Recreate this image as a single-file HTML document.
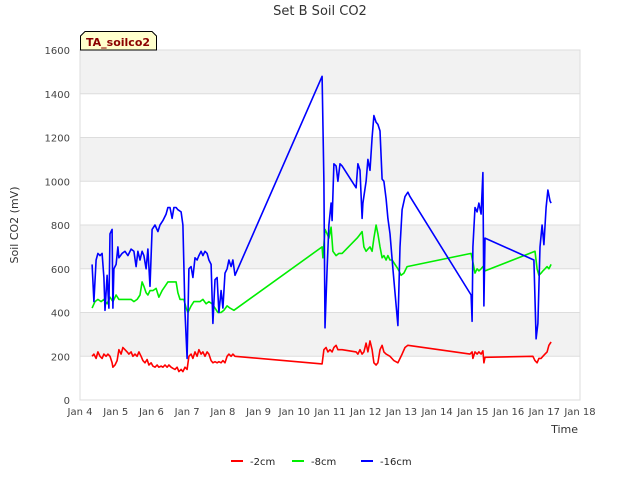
<!DOCTYPE html>
<html><head><meta charset="utf-8"><style>
body{margin:0;background:#fff;}
svg{font-family:"DejaVu Sans","Liberation Sans",sans-serif;}
</style></head><body>
<svg id="chart" width="640" height="480" viewBox="0 0 640 480"></svg>
<script>
const yTicks=[0,200,400,600,800,1000,1200,1400,1600];
const xTickLabels=["Jan 4","Jan 5","Jan 6","Jan 7","Jan 8","Jan 9","Jan 10","Jan 11","Jan 12","Jan 13","Jan 14","Jan 15","Jan 16","Jan 17","Jan 18"];
const seriesNames=["-2cm","-8cm","-16cm"];
const seriesColors=["#ff0000","#00ee00","#0000ff"];
// times in days since Jan 4 00:00
const redT=[.34,.39,.45,.50,.56,.62,.67,.73,.78,.84,.90,.92,.98,1.04,1.09,1.15,1.20,1.26,1.32,1.37,1.43,1.48,1.54,1.60,1.65,1.71,1.76,1.82,1.88,1.93,1.99,2.04,2.10,2.16,2.21,2.27,2.32,2.38,2.44,2.49,2.55,2.60,2.66,2.72,2.77,2.83,2.88,2.94,3.00,3.05,3.11,3.16,3.22,3.28,3.33,3.39,3.44,3.50,3.56,3.61,3.67,3.72,3.78,3.84,3.89,3.95,4.00,4.06,4.12,4.17,4.23,4.28,4.34,6.78,6.83,6.89,6.94,7.00,7.06,7.11,7.17,7.22,7.34,7.73,7.78,7.84,7.90,7.95,8.01,8.06,8.12,8.18,8.23,8.29,8.34,8.40,8.46,8.51,8.57,8.68,8.79,8.90,9.02,9.10,9.18,10.92,10.98,11.00,11.06,11.12,11.17,11.23,11.28,11.31,11.34,12.68,12.74,12.80,12.85,12.91,12.96,13.02,13.08,13.13,13.19];
const redV=[200,210,190,220,200,190,210,200,210,200,170,150,160,180,230,210,240,230,220,210,220,200,210,200,220,200,180,170,185,160,170,155,150,160,150,155,150,160,150,160,150,145,140,150,130,140,130,150,140,200,210,190,220,200,230,210,220,200,220,210,180,170,175,170,175,170,180,170,200,210,200,210,200,165,230,240,220,230,220,240,250,230,230,220,210,230,210,220,260,220,270,230,170,160,170,230,250,220,210,200,180,170,210,240,250,210,220,190,220,210,220,210,225,170,195,200,180,170,190,190,200,210,220,250,265];
const greenT=[.34,.42,.50,.59,.67,.76,.84,.92,1.01,1.09,1.18,1.26,1.34,1.43,1.51,1.60,1.68,1.74,1.79,1.85,1.90,1.96,2.04,2.13,2.21,2.30,2.38,2.46,2.58,2.69,2.74,2.80,2.91,2.97,3.02,3.11,3.19,3.28,3.36,3.44,3.53,3.61,3.70,3.78,3.86,3.95,4.03,4.12,4.20,4.31,6.78,6.80,6.86,6.92,6.97,7.03,7.08,7.17,7.25,7.34,7.76,7.81,7.90,7.95,8.01,8.06,8.12,8.18,8.23,8.29,8.34,8.40,8.46,8.51,8.57,8.62,8.68,8.74,8.82,8.90,8.99,9.07,9.16,10.95,11.00,11.06,11.12,11.17,11.23,11.28,11.34,12.74,12.80,12.85,12.91,12.96,13.02,13.08,13.13,13.19];
const greenV=[420,450,460,450,460,440,470,450,480,460,460,460,460,460,450,460,480,540,520,490,480,500,500,510,470,500,520,540,540,540,490,460,460,420,400,430,450,450,450,460,440,450,440,420,400,400,410,430,420,410,700,650,780,760,740,790,680,660,670,670,740,750,770,700,680,690,700,680,740,800,760,700,650,660,640,660,640,640,620,600,570,580,610,670,630,580,600,590,600,610,590,680,600,570,580,590,600,610,600,620];
const blueT=[.34,.39,.45,.50,.56,.62,.67,.70,.76,.81,.84,.90,.92,.95,1.01,1.06,1.09,1.18,1.26,1.34,1.43,1.51,1.57,1.62,1.68,1.74,1.79,1.85,1.90,1.96,2.02,2.10,2.18,2.24,2.32,2.41,2.46,2.52,2.58,2.63,2.69,2.74,2.83,2.88,2.94,3.00,3.05,3.11,3.16,3.22,3.28,3.33,3.39,3.44,3.50,3.56,3.61,3.67,3.72,3.78,3.84,3.89,3.95,4.00,4.06,4.12,4.17,4.23,4.28,4.34,6.78,6.83,6.86,6.92,6.97,7.03,7.06,7.11,7.17,7.22,7.28,7.34,7.73,7.78,7.84,7.90,7.92,8.01,8.06,8.12,8.18,8.23,8.29,8.34,8.40,8.46,8.51,8.57,8.62,8.68,8.76,8.90,8.96,9.02,9.10,9.18,9.24,10.95,10.98,11.00,11.06,11.12,11.17,11.23,11.28,11.31,11.34,12.71,12.77,12.82,12.88,12.94,12.99,13.05,13.10,13.16,13.19];
const blueV=[620,450,640,670,660,670,560,410,570,420,760,780,420,600,620,700,650,670,680,660,690,680,610,680,640,680,660,600,690,520,780,800,770,800,820,850,880,880,830,880,880,870,860,800,400,190,600,610,560,650,640,660,680,660,680,670,640,620,350,550,560,400,500,420,580,600,640,610,640,570,1480,1000,330,600,800,900,820,1080,1070,1000,1080,1070,970,1080,1050,830,900,1000,1100,1050,1200,1300,1270,1260,1230,1010,1000,920,830,760,600,340,700,870,930,950,930,480,360,700,880,860,900,850,1040,430,740,640,280,350,700,800,710,880,960,910,900];

const svg=document.getElementById('chart');
const NS='http://www.w3.org/2000/svg';
const L=80,R=580,T=50,B=400,DAYS=14,YMAX=1600;
const xs=d=>L+d*(R-L)/DAYS;
const ys=v=>B-v*(B-T)/YMAX;
function mk(tag,attrs,parent){const e=document.createElementNS(NS,tag);for(const k in attrs)e.setAttribute(k,attrs[k]);(parent||svg).appendChild(e);return e;}

for(let i=0;i<yTicks.length-1;i++){
  if(i%2===1){
    const r=mk('rect',{x:L,y:ys(yTicks[i+1]),width:R-L,height:ys(yTicks[i])-ys(yTicks[i+1]),fill:'#f2f2f2'});
    
    
  }
}
yTicks.forEach(v=>{
  const g=mk('line',{x1:L,x2:R,y1:ys(v),y2:ys(v),stroke:'#dddddd','stroke-width':1});
  
  
  const t=mk('text',{x:L-10,y:ys(v)+4,'text-anchor':'end','font-size':10,fill:'#444'});
  t.textContent=v;
  
  
});
const frame=mk('rect',{x:L,y:T,width:R-L,height:B-T,fill:'none',stroke:'#dddddd'});


xTickLabels.forEach((s,i)=>{
  const t=mk('text',{x:xs(i),y:B+15,'text-anchor':'middle','font-size':10,fill:'#444'});
  t.textContent=s;
  
  
});
const series=[[redT,redV],[greenT,greenV],[blueT,blueV]];
series.forEach((s,k)=>{
  const d=s[0].map((t,i)=>(i?'L':'M')+xs(t).toFixed(1)+','+ys(s[1][i]).toFixed(1)).join('');
  const p=mk('path',{d:d,fill:'none',stroke:seriesColors[k],'stroke-width':1.6,'stroke-linejoin':'round'});
  
  
});
const lx=[231,292,361];
seriesNames.forEach((n,k)=>{
  const l=mk('line',{x1:lx[k],x2:lx[k]+12,y1:461,y2:461,stroke:seriesColors[k],'stroke-width':2});
  
  
  const t=mk('text',{x:lx[k]+19,y:465,'font-size':10,fill:'#222'});
  t.textContent=n;
  
  
});
</script>
<svg width="640" height="480" style="position:absolute;left:0;top:0;pointer-events:none">
<text x="320" y="15" text-anchor="middle" font-size="13" fill="#333">Set B Soil CO2</text>
<text transform="translate(18,225) rotate(-90)" text-anchor="middle" font-size="11" fill="#333">Soil CO2 (mV)</text>
<text x="578" y="433" text-anchor="end" font-size="11" fill="#333">Time</text>
<g>
<polygon points="85,31.5 152,31.5 156.5,36 156.5,50 80.5,50 80.5,36" fill="#ffffcc" stroke="#000" stroke-width="1"/>
<text x="86" y="46" font-size="11" font-weight="bold" fill="#8b0000">TA_soilco2</text>
</g>
</svg>
</body></html>
